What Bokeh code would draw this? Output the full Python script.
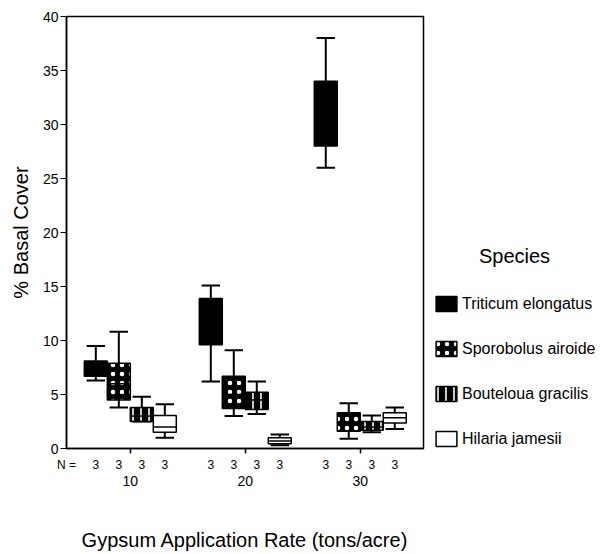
from bokeh.plotting import figure
from bokeh.layouts import row
from bokeh.models import (Range1d, FixedTicker, Label, ColumnDataSource,
                          Legend, LegendItem, LinearAxis)
from bokeh.embed import file_html
from bokeh.resources import INLINE

# ---------------- data ----------------
rates = [10, 20, 30]
rate_labels = ["10", "20", "30"]
species = ["Triticum elongatus", "Sporobolus airoide", "Bouteloua gracilis", "Hilaria jamesii"]

# N per box (rate x species)
n_counts = [3, 3, 3, 3, 3, 3, 3, 3, 3, 3, 3, 3]
n_prefix = "N ="

# five-number summaries, one value per rate (10, 20, 30)
tri_low = [6.3, 6.2, 26.0]
tri_q1 = [6.7, 9.6, 28.0]
tri_med = [7.3, 12.0, 30.0]
tri_q3 = [8.1, 13.9, 34.0]
tri_high = [9.5, 15.1, 38.0]

spo_low = [3.8, 3.0, 0.9]
spo_q1 = [4.5, 3.7, 1.6]
spo_med = [6.0, 5.0, 2.3]
spo_q3 = [7.9, 6.7, 3.3]
spo_high = [10.8, 9.1, 4.2]

bou_low = [2.5, 3.2, 1.5]
bou_q1 = [2.5, 3.6, 1.7]
bou_med = [3.0, 4.5, 2.0]
bou_q3 = [3.8, 5.2, 2.5]
bou_high = [4.8, 6.2, 3.05]

hil_low = [1.0, 0.3, 1.8]
hil_q1 = [1.5, 0.45, 2.35]
hil_med = [2.0, 0.7, 2.85]
hil_q3 = [3.05, 1.0, 3.3]
hil_high = [4.1, 1.3, 3.8]

y_ticks = [0, 5, 10, 15, 20, 25, 30, 35, 40]

stats = [
    (tri_low, tri_q1, tri_med, tri_q3, tri_high),
    (spo_low, spo_q1, spo_med, spo_q3, spo_high),
    (bou_low, bou_q1, bou_med, bou_q3, bou_high),
    (hil_low, hil_q1, hil_med, hil_q3, hil_high),
]

# ---------------- style ----------------
offsets = [-3, -1, 1, 3]
box_half = 1.0
cap_half = 0.8
fills = ["black", "black", "black", "white"]
hatches = [" ", ".", "|", " "]
hatch_scales = [8, 9, 8, 8]
hatch_weights = [1, 2.4, 1.6, 1]
FONT = "Liberation Sans"
H = 553
x_start, x_end = 4.45, 35.5

fig = figure(width=427, height=H, output_backend="svg", toolbar_location=None,
             x_range=Range1d(x_start, x_end), y_range=Range1d(0, 40),
             x_axis_location=None,
             min_border_left=66, min_border_right=4, min_border_top=16,
             min_border_bottom=H - 448)
fig.grid.visible = False
fig.background_fill_color = "white"
fig.border_fill_color = "white"
fig.outline_line_color = "black"
fig.outline_line_width = 1.5

style_kw = []
sources = []
for i, (lo, q1, md, q3, hi) in enumerate(stats):
    xs = [r + offsets[i] for r in rates]
    src = ColumnDataSource(dict(
        x=xs, left=[x - box_half for x in xs], right=[x + box_half for x in xs],
        cl=[x - cap_half for x in xs], cr=[x + cap_half for x in xs],
        low=lo, q1=q1, med=md, q3=q3, high=hi))
    sources.append(src)
    fig.segment("x", "q3", "x", "high", source=src, line_color="black", line_width=2)
    fig.segment("x", "low", "x", "q1", source=src, line_color="black", line_width=2)
    fig.segment("cl", "high", "cr", "high", source=src, line_color="black", line_width=2)
    fig.segment("cl", "low", "cr", "low", source=src, line_color="black", line_width=2)
    kw = dict(fill_color=fills[i], hatch_pattern=hatches[i], hatch_color="white",
              hatch_scale=hatch_scales[i], hatch_weight=hatch_weights[i],
              line_color="black", line_width=1.5)
    style_kw.append(kw)
    fig.quad(left="left", right="right", bottom="q1", top="q3", source=src, **kw)
    fig.segment("left", "med", "right", "med", source=src, line_color="black", line_width=1.5)

# y axis
fig.yaxis.ticker = FixedTicker(ticks=y_ticks)
fig.yaxis.major_tick_out = 6
fig.yaxis.major_tick_in = 0
fig.yaxis.minor_tick_line_color = None
fig.yaxis.major_label_standoff = 2
fig.yaxis.major_label_text_font = FONT
fig.yaxis.major_label_text_font_size = "14px"
fig.yaxis.major_label_text_color = "black"
fig.yaxis.axis_line_width = 1.5
fig.yaxis.axis_label = "% Basal Cover"
fig.yaxis.axis_label_text_font = FONT
fig.yaxis.axis_label_text_font_size = "20px"
fig.yaxis.axis_label_text_font_style = "normal"
fig.yaxis.axis_label_text_color = "black"
fig.yaxis.axis_label_standoff = 8

# x axis 1: N row (labels) with the group tick marks as minor ticks
n_x = [r + o for r in rates for o in offsets]
overrides = {x_start: n_prefix}
for x, n in zip(n_x, n_counts):
    overrides[x] = str(n)
n_axis = LinearAxis(ticker=FixedTicker(ticks=[x_start] + n_x, minor_ticks=rates),
                    major_label_overrides=overrides,
                    major_tick_line_color=None, major_tick_out=0, major_tick_in=0,
                    minor_tick_line_color="black", minor_tick_line_width=1.5,
                    minor_tick_out=5, minor_tick_in=0,
                    major_label_standoff=4, major_label_text_font=FONT,
                    major_label_text_font_size="12px", major_label_text_color="black",
                    axis_line_color="black", axis_line_width=1.5)
fig.add_layout(n_axis, "below")

# x axis 2: group labels and axis title
grp_axis = LinearAxis(ticker=FixedTicker(ticks=rates, minor_ticks=[]),
                      major_label_overrides={r: l for r, l in zip(rates, rate_labels)},
                      major_tick_line_color=None, major_tick_out=0, major_tick_in=0,
                      minor_tick_line_color=None, axis_line_color=None,
                      major_label_standoff=1, major_label_text_font=FONT,
                      major_label_text_font_size="14px", major_label_text_color="black",
                      axis_label="Gypsum Application Rate (tons/acre)",
                      axis_label_text_font=FONT, axis_label_text_font_size="20px",
                      axis_label_text_font_style="normal", axis_label_text_color="black",
                      axis_label_standoff=40)
fig.add_layout(grp_axis, "below")

# ---------------- legend panel (frame aligned with main frame: y 16..448) ----------------
LW = 595 - 427
leg = figure(width=LW, height=H, output_backend="svg", toolbar_location=None,
             x_range=Range1d(0, 1), y_range=Range1d(0, 1),
             x_axis_location=None, y_axis_location=None,
             min_border=0, outline_line_color=None)
leg.grid.visible = False
items = []
for i, name in enumerate(species):
    # same data as main boxes; lies outside this panel's ranges, so only the legend swatch shows
    r = leg.quad(left="left", right="right", bottom="q1", top="q3", source=sources[i],
                 **style_kw[i])
    items.append(LegendItem(label=name, renderers=[r]))

leg.add_layout(Label(x=87, y=448 - 255, x_units="screen", y_units="screen", text="Species",
                     text_align="center", text_baseline="middle",
                     text_font=FONT, text_font_size="20px", text_color="black"))
legend = Legend(items=items, location=(6, 0), border_line_color=None,
                background_fill_alpha=0, padding=0, margin=0,
                glyph_width=26, glyph_height=19, label_height=19, spacing=26,
                label_standoff=3, label_text_font=FONT, label_text_font_size="16px",
                label_text_color="black")
leg.add_layout(legend)

p = row(fig, leg)
open("out.html", "w").write(file_html(p, INLINE))
